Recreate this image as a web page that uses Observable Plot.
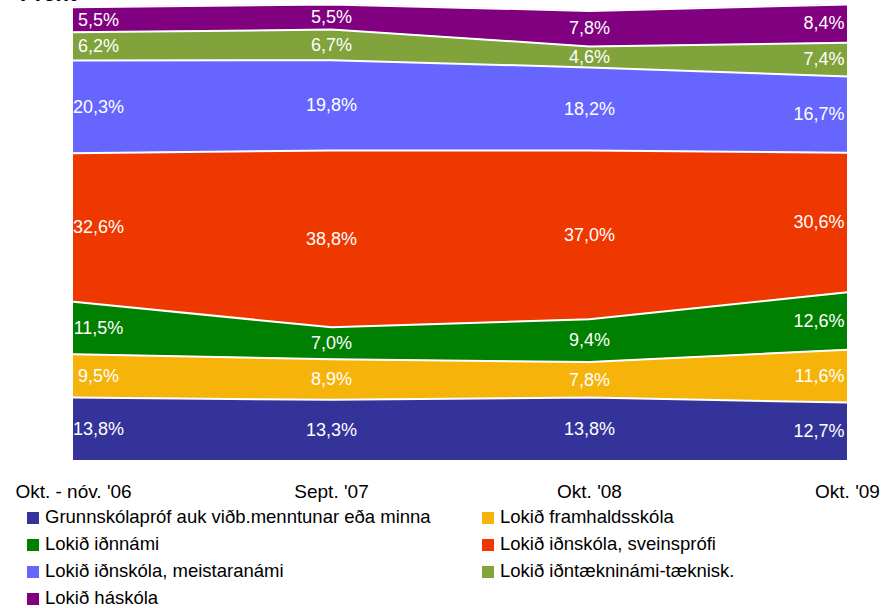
<!DOCTYPE html>
<html>
<head>
<meta charset="utf-8">
<script src="https://cdn.jsdelivr.net/npm/d3@7"></script>
<script src="https://cdn.jsdelivr.net/npm/@observablehq/plot@0.6"></script>
<style>
  body { margin: 0; background: #fff; font-family: "Liberation Sans", Arial, sans-serif; }
  #wrap { position: relative; width: 894px; height: 608px; overflow: hidden; }
  #title { position: absolute; left: 20px; top: -17px; font-weight: bold; font-size: 22px; color: #000; line-height: 22px; }
  #chart { position: absolute; left: 0; top: 0; }
  #legend { position: absolute; left: 0; top: 503px; width: 894px; font-size: 18.5px; color: #000; }
  .item { position: absolute; height: 27px; line-height: 27px; white-space: nowrap; }
  .sw { position: absolute; width: 12px; height: 12px; top: 9px; left: 0; }
  .lbl { position: absolute; left: 18px; top: 0; }
</style>
</head>
<body>
<div id="wrap">
  <div id="chart"></div>
  <div id="title">Prent</div>
  <div id="legend"></div>
</div>
<script>
const periods = ["Okt. - nóv. '06", "Sept. '07", "Okt. '08", "Okt. '09"];
const categories = [
  "Grunnskólapróf auk viðb.menntunar eða minna",
  "Lokið framhaldsskóla",
  "Lokið iðnnámi",
  "Lokið iðnskóla, sveinsprófi",
  "Lokið iðnskóla, meistaranámi",
  "Lokið iðntækninámi-tæknisk.",
  "Lokið háskóla"
];
const colors = ["#343399", "#f6b30a", "#008000", "#ef3800", "#6666ff", "#80a33c", "#800080"];

const grunnskoli   = [13.8, 13.3, 13.8, 12.7];
const framhald     = [9.5, 8.9, 7.8, 11.6];
const idnnam       = [11.5, 7.0, 9.4, 12.6];
const sveinsprof   = [32.6, 38.8, 37.0, 30.6];
const meistaranam  = [20.3, 19.8, 18.2, 16.7];
const idntaekni    = [6.2, 6.7, 4.6, 7.4];
const haskoli      = [5.5, 5.5, 7.8, 8.4];

const series = [grunnskoli, framhald, idnnam, sveinsprof, meistaranam, idntaekni, haskoli];

const data = [];
categories.forEach((c, ci) => {
  periods.forEach((p, pi) => {
    data.push({ period: p, pi, category: c, value: series[ci][pi] });
  });
});

const fmt = v => v.toFixed(1).replace(".", ",") + "%";
const stackOpts = { x: "period", y: "value", z: "category", order: categories };

const textBase = {
  ...stackOpts,
  text: d => fmt(d.value),
  fill: "white",
  fontSize: 18,
  fontFamily: "Liberation Sans, Arial, sans-serif"
};

const chart = Plot.plot({
  width: 894,
  height: 504,
  marginLeft: 73,
  marginRight: 47,
  marginTop: 4,
  marginBottom: 44,
  style: { fontFamily: "Liberation Sans, Arial, sans-serif", background: "white" },
  x: { type: "point", domain: periods, padding: 0, label: null, tickSize: 0, tickPadding: 24 },
  y: { domain: [0, 100], axis: null },
  color: { domain: categories, range: colors },
  marks: [
    Plot.areaY(data, Plot.stackY({ ...stackOpts, fill: "category", curve: "linear" })),
    Plot.lineY(data, Plot.stackY2({ ...stackOpts, stroke: "white", strokeWidth: 2, curve: "linear" })),
    Plot.text(data.filter(d => d.pi === 0), Plot.stackY({ ...textBase, textAnchor: "middle", dx: 25 })),
    Plot.text(data.filter(d => d.pi === 1 || d.pi === 2), Plot.stackY({ ...textBase, textAnchor: "middle" })),
    Plot.text(data.filter(d => d.pi === 3), Plot.stackY({ ...textBase, textAnchor: "end", dx: -3 })),
    Plot.axisX({ domain: periods, tickSize: 0, tickPadding: 24, fontSize: 19, label: null, color: "black" })
  ]
});
document.getElementById("chart").appendChild(chart);

const legend = document.getElementById("legend");
categories.forEach((c, i) => {
  const col = i % 2, row = Math.floor(i / 2);
  const item = document.createElement("div");
  item.className = "item";
  item.style.left = (col === 0 ? 27 : 482) + "px";
  item.style.top = (row * 27) + "px";
  const sw = document.createElement("div");
  sw.className = "sw";
  sw.style.background = colors[i];
  const lbl = document.createElement("span");
  lbl.className = "lbl";
  lbl.textContent = c;
  item.appendChild(sw);
  item.appendChild(lbl);
  legend.appendChild(item);
});
</script>
</body>
</html>
